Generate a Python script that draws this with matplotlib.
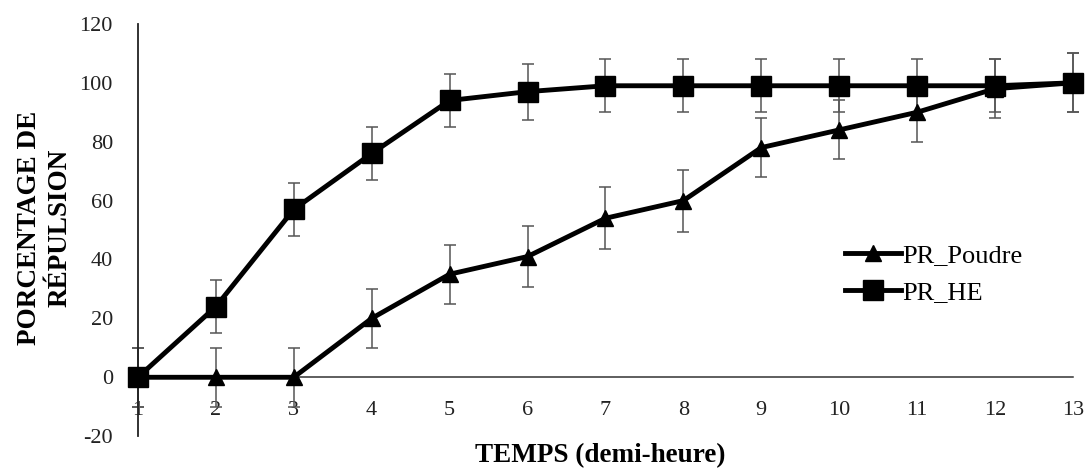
import matplotlib
matplotlib.use('Agg')
import matplotlib.pyplot as plt
import numpy as np

plt.rcParams['font.family'] = ['Liberation Serif', 'DejaVu Serif']
plt.rcParams['axes.unicode_minus'] = False

temps       = [1, 2, 3, 4, 5, 6, 7, 8, 9, 10, 11, 12, 13]
pr_poudre   = [0, 0, 0, 20, 35, 41, 54, 60, 78, 84, 90, 98, 100]
pr_he       = [0, 24, 57, 76, 94, 97, 99, 99, 99, 99, 99, 99, 100]
err_poudre  = [10, 10, 10, 10, 10, 10.5, 10.5, 10.5, 10, 10, 10, 10, 10]
err_he      = [10, 9, 9, 9, 9, 9.5, 9, 9, 9, 9, 9, 9, 10]

fig = plt.figure(figsize=(10.86, 4.69), dpi=100)
ax = fig.add_axes([0.127, 0.070, 0.861, 0.879])

# error bars first (thin grey), then the thick black lines
ax.errorbar(temps, pr_poudre, yerr=err_poudre, fmt='none', ecolor='#555555',
            elinewidth=1.1, capsize=4.5, capthick=1.1, clip_on=False, zorder=2)
ax.errorbar(temps, pr_he, yerr=err_he, fmt='none', ecolor='#555555',
            elinewidth=1.1, capsize=4.5, capthick=1.1, clip_on=False, zorder=2)

ax.plot(temps, pr_poudre, color='black', lw=3.5, marker='^', ms=12,
        label='PR_Poudre', clip_on=False, zorder=3)
ax.plot(temps, pr_he, color='black', lw=3.5, marker='s', ms=14,
        label='PR_HE', clip_on=False, zorder=4)

ax.set_xlim(1, 13)
ax.set_ylim(-20, 120)
ax.set_xticks(temps)
ax.set_yticks(np.arange(-20, 121, 20))

ax.spines['top'].set_visible(False)
ax.spines['right'].set_visible(False)
ax.spines['bottom'].set_position(('data', 0))
ax.spines['bottom'].set_color('#333333')
ax.spines['bottom'].set_linewidth(1.1)
ax.spines['left'].set_color('#222222')
ax.spines['left'].set_linewidth(1.3)
ax.tick_params(axis='x', length=0, pad=17, labelsize=16, colors='#222222')
ax.tick_params(axis='y', length=0, pad=18, labelsize=16, colors='#222222')

ax.set_xlabel('TEMPS (demi-heure)', fontsize=19.5, fontweight='bold')
ax.xaxis.set_label_coords(0.494, -0.047)
ax.xaxis.label.set_verticalalignment('center')
ax.set_ylabel('PORCENTAGE DE\nRÉPULSION', fontsize=19.5, fontweight='bold',
              linespacing=1.3)
ax.yaxis.set_label_coords(-0.1, 0.505)
ax.yaxis.label.set_verticalalignment('center')

leg = ax.legend(loc='upper left', bbox_to_anchor=(0.745, 0.492), frameon=False,
                fontsize=19, handlelength=2.1, handletextpad=0.05,
                labelspacing=0.5, borderaxespad=0.0)

fig.savefig('out.png', dpi=100)
